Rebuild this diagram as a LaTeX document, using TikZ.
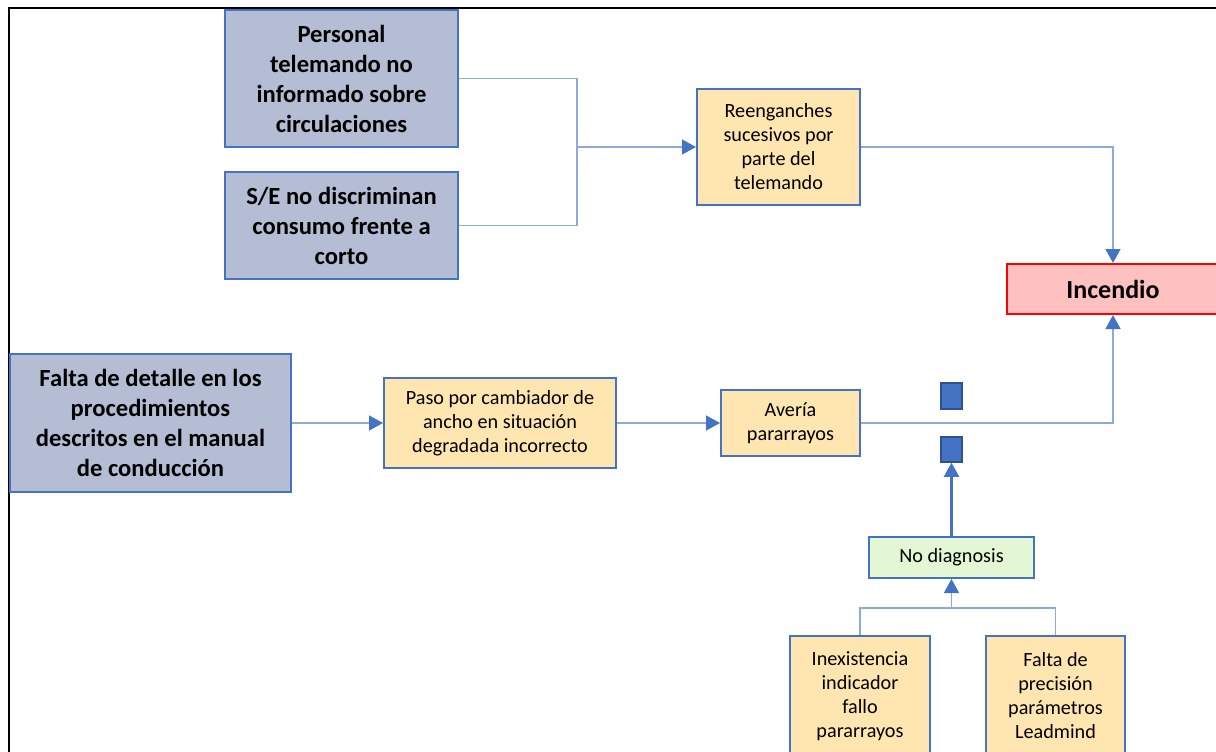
\documentclass[tikz,border=0pt]{standalone}
\usepackage{fontspec}
\setmainfont{Carlito}
\usetikzlibrary{arrows.meta}
\definecolor{boxblue}{HTML}{4472C4}
\definecolor{linkblue}{HTML}{8EA9DB}
\definecolor{causefill}{HTML}{B5BDD4}
\definecolor{eventfill}{HTML}{FFE6B0}
\definecolor{diagfill}{HTML}{E4F7D4}
\definecolor{firefill}{HTML}{FFC0C0}
\definecolor{gatedark}{HTML}{2F528F}
\begin{document}
\begin{tikzpicture}[x=1pt,y=-1pt,
    >={Triangle[length=14pt,width=15pt,color=boxblue]},
    cause/.style={draw=boxblue,line width=2pt,fill=causefill,align=center,
      font=\bfseries\fontsize{24.6}{30}\selectfont,inner sep=0pt},
    event/.style={draw=boxblue,line width=2pt,fill=eventfill,align=center,
      font=\fontsize{20.2}{24}\selectfont,inner sep=0pt},
    gate/.style={draw=gatedark,line width=1.5pt,fill=boxblue,inner sep=0pt,
      minimum width=21pt},
    link/.style={draw=linkblue,line width=1.4pt}]
  \useasboundingbox (0,0) rectangle (1216,752);
  \draw[line width=1.2pt] (9,752) -- (9,8) -- (1216,8);
  \node[cause,minimum width=233pt,minimum height=137pt] (pers) at (341.5,78.5)
    {Personal\\telemando no\\informado sobre\\circulaciones};
  \node[cause,minimum width=233pt,minimum height=107pt] (se) at (341.5,225.5)
    {S/E no discriminan\\consumo frente a\\corto};
  \node[event,minimum width=163pt,minimum height=116pt] (reen) at (778.5,147)
    {Reenganches\\sucesivos por\\parte del\\telemando};
  \node[draw=red,line width=2pt,fill=firefill,minimum width=212pt,minimum height=50pt,
    font=\bfseries\fontsize{26}{30}\selectfont] (inc) at (1113,289) {Incendio};
  \node[cause,minimum width=281pt,minimum height=138pt] (falta) at (150.5,423)
    {Falta de detalle en los\\procedimientos\\descritos en el manual\\de conducción};
  \node[event,minimum width=232pt,minimum height=90pt] (paso) at (500,423)
    {Paso por cambiador de\\ancho en situación\\degradada incorrecto};
  \node[event,minimum width=139pt,minimum height=66pt] (aver) at (790.5,423)
    {Avería\\pararrayos};
  \node[gate,minimum height=26pt] (g1) at (951.5,396) {};
  \node[gate,minimum height=25pt] (g2) at (951.5,449.5) {};
  \node[event,fill=diagfill,minimum width=165pt,minimum height=41pt] (nodiag) at (951.5,557.5)
    {No diagnosis};
  \node[event,minimum width=140pt,minimum height=120pt] (inex) at (860,696)
    {Inexistencia\\indicador\\fallo\\pararrayos};
  \node[event,minimum width=139pt,minimum height=120pt] (prec) at (1055.5,696)
    {Falta de\\precisión\\parámetros\\Leadmind};
  \coordinate (j1) at (577,147);
  \coordinate (j2) at (951.5,608);
  \draw[link] (pers.east) -| (j1);
  \draw[link] (se.east) -| (j1);
  \draw[link,->] (j1) -- (reen.west);
  \draw[link,->] (reen.east) -| (inc.north);
  \draw[link,->] (falta.east) -- (paso.west);
  \draw[link,->] (paso.east) -- (aver.west);
  \draw[link,->] (aver.east) -| (inc.south);
  \draw[draw=boxblue,line width=2.2pt,->] (nodiag.north) -- (g2.south);
  \draw[link] (inex.north) -- (inex.north |- j2) -| (prec.north);
  \draw[link,->] (j2) -- (nodiag.south);
\end{tikzpicture}
\end{document}
